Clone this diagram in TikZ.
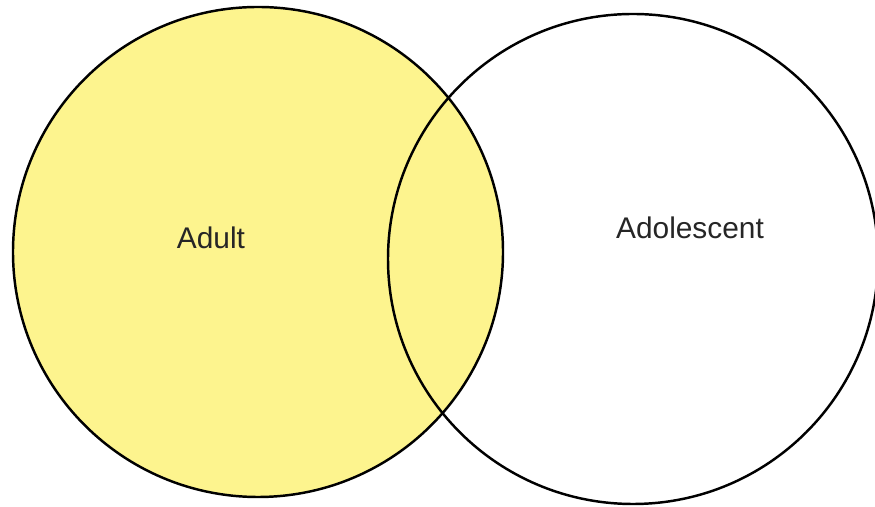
\documentclass[tikz,border=0pt]{standalone}
\usepackage{fontspec}
\setmainfont{Liberation Sans}
\usepackage{tikz}
\usetikzlibrary{positioning,shapes}
\usepackage{xcolor}
\definecolor{dfyellow}{RGB}{253,244,142}
\tikzstyle{set} = [circle,draw=black,line width=1.4pt,minimum size=9.8cm,inner sep=0pt]
\tikzstyle{setlabel} = [font=\fontsize{17}{20}\selectfont,text=black!85]

\begin{document}
\begin{tikzpicture}
\useasboundingbox (0,0) rectangle (17.5,10.14);

% Sets
\node[set, fill=dfyellow] (adult) at (5.16,5.10) {};
\node[set] (adolescent) at (12.66,4.96) {};

% Labels
\node[setlabel] (adultlabel) at (4.22,5.38) {Adult};
\node[setlabel] (adolescentlabel) at (13.80,5.58) {Adolescent};
\end{tikzpicture}
\end{document}
